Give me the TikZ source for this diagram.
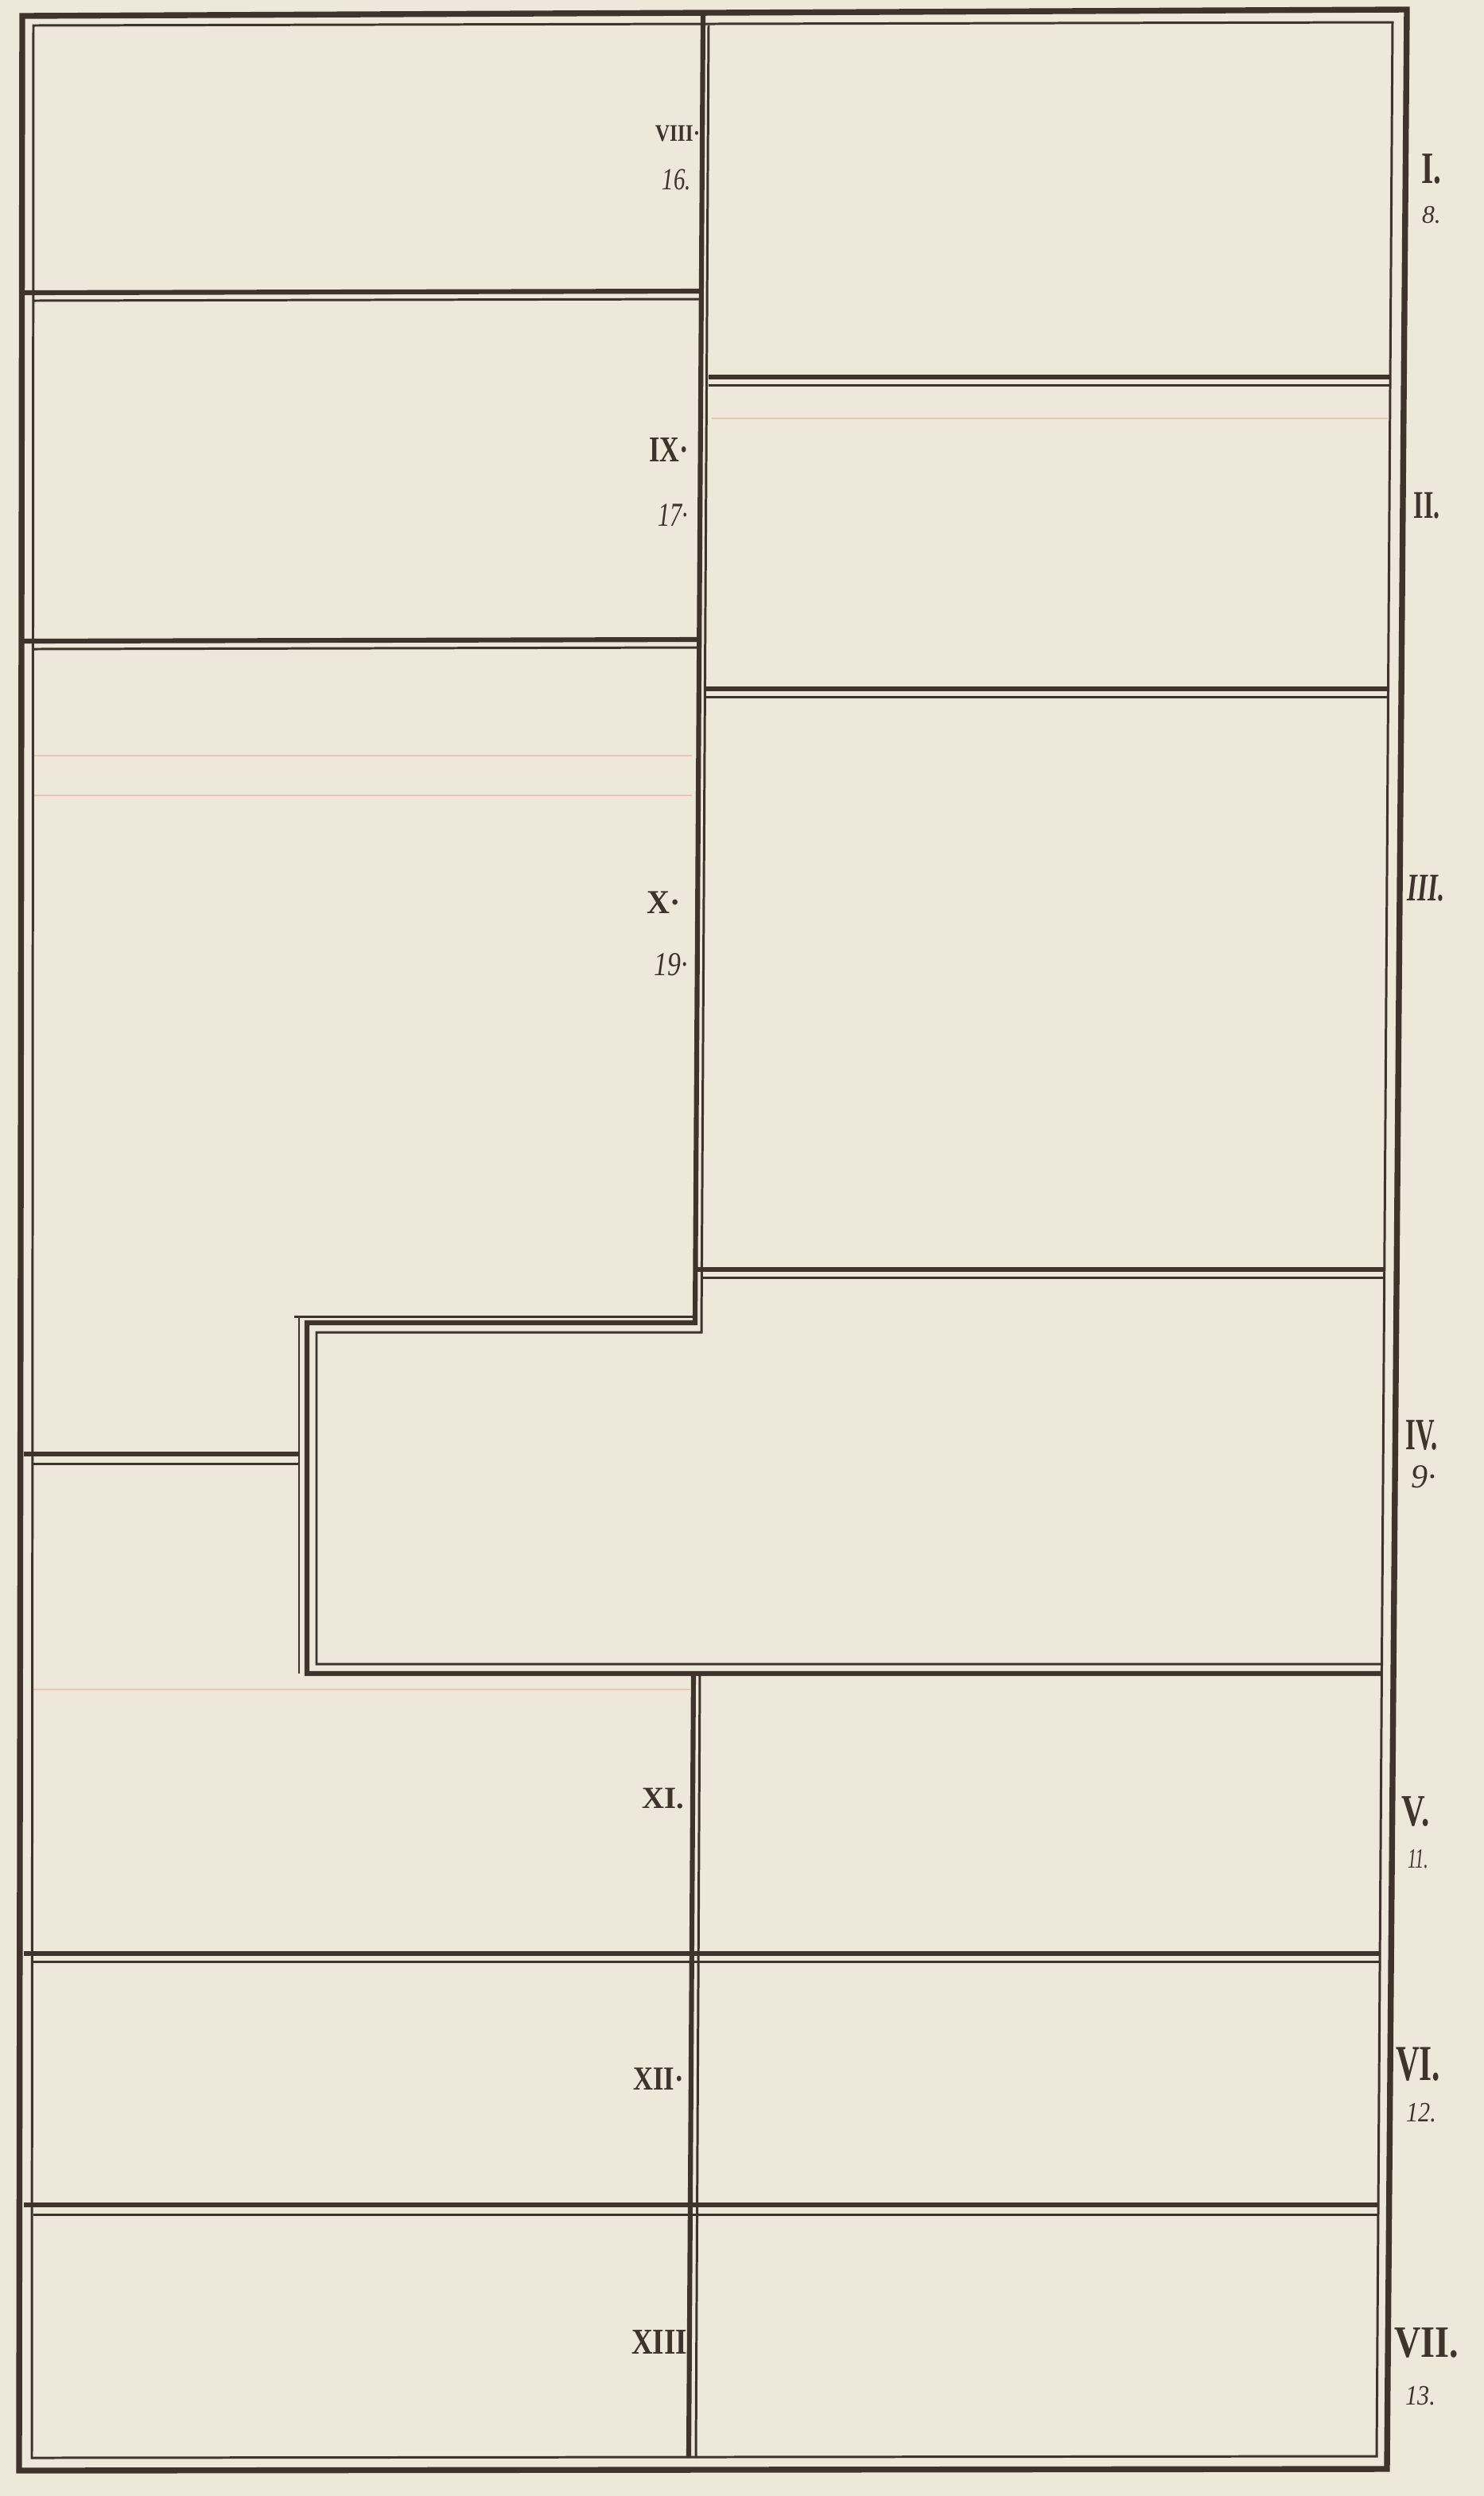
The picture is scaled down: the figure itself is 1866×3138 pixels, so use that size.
\documentclass[tikz,border=0pt]{standalone}
\usepackage{graphicx}
\usepackage{fontspec}
\setmainfont{Liberation Serif}
\definecolor{paper}{RGB}{237,232,218}
\definecolor{ink}{RGB}{62,52,44}
\definecolor{ruling}{RGB}{228,176,158}
\tikzset{
  thk/.style={draw=ink, line width=1.75pt, line join=miter},
  thn/.style={draw=ink, line width=0.85pt, line join=miter},
  frm/.style={draw=ink, line width=2.1pt, line join=miter},
  rul/.style={draw=ruling, line width=0.5pt, opacity=0.6},
  lab/.style={text=ink, inner sep=0pt, anchor=center},
}
\newcommand\nrw[2]{\scalebox{#1}[1]{#2}}
\begin{document}
\begin{tikzpicture}[x=0.01cm, y=-0.01cm]
\fill[paper] (0,0) rectangle (1866,3138);
\useasboundingbox (0,0) rectangle (1866,3138);

% faint ruling
\draw[rul] (895,526) -- (1745,526);
\draw[rul] (40,950) -- (870,950);
\draw[rul] (40,1000) -- (870,1000);
\draw[rul] (40,2124) -- (868,2124);

% outer frame
\draw[frm] (28,20) -- (1769,12) -- (1744,3104) -- (24,3106) -- cycle;
\draw[thn] (42,32) -- (1751,28) -- (1731,3088) -- (40,3090) -- cycle;

% central divider and L step of room IV
\draw[thk] (884,20) -- (874,1663) -- (386,1663) -- (386,2104) -- (1738,2104);
\draw[thn] (891,32) -- (882,1675) -- (398,1675) -- (398,2092) -- (1737,2092);
\draw[thn] (370,1655) -- (872,1655);
\draw[thn] (376,1655) -- (376,2104);

% lower central divider
\draw[thk] (872,2104) -- (866,3090);
\draw[thn] (880,2104) -- (875,3090);

% left column dividers
\draw[thk] (30,368) -- (883,366);
\draw[thn] (42,378) -- (883,376);
\draw[thk] (30,806) -- (880,804);
\draw[thn] (42,816) -- (880,814);
\draw[thk] (30,1828) -- (376,1828);
\draw[thn] (42,1840) -- (376,1840);

% right column dividers
\draw[thk] (891,474) -- (1748,474);
\draw[thn] (891,484) -- (1748,484);
\draw[thk] (888,866) -- (1746,866);
\draw[thn] (888,876) -- (1746,876);
\draw[thk] (876,1596) -- (1741,1596);
\draw[thn] (882,1606) -- (1741,1606);

% full width dividers
\draw[thk] (30,2456) -- (1735,2456);
\draw[thn] (42,2466) -- (1735,2466);
\draw[thk] (30,2772) -- (1733,2772);
\draw[thn] (42,2784) -- (1733,2784);

% labels, left column
\node[lab, font=\fontsize{8.5}{8.5}\selectfont\bfseries] (l8) at (852,168) {\nrw{0.85}{VIII·}};
\node[lab, font=\fontsize{11}{11}\selectfont\itshape] (n16) at (851,226) {\nrw{0.75}{16.}};
\node[lab, font=\fontsize{13}{13}\selectfont\bfseries] (l9) at (841,566) {\nrw{0.75}{IX·}};
\node[lab, font=\fontsize{12}{12}\selectfont\itshape] (n17) at (846,648) {\nrw{0.72}{17·}};
\node[lab, font=\fontsize{12}{12}\selectfont\bfseries] (l10) at (835,1135) {\nrw{0.95}{X·}};
\node[lab, font=\fontsize{12}{12}\selectfont\itshape] (n19) at (844,1213) {\nrw{0.8}{19·}};
\node[lab, font=\fontsize{11}{11}\selectfont\bfseries] (l11) at (834,2261) {XI.};
\node[lab, font=\fontsize{12}{12}\selectfont\bfseries] (l12) at (828,2614) {\nrw{0.82}{XII·}};
\node[lab, font=\fontsize{13}{13}\selectfont\bfseries] (l13) at (829,2944) {\nrw{0.81}{XIII}};

% labels, right column
\node[lab, font=\fontsize{16}{16}\selectfont\bfseries] (r1) at (1800,212) {\nrw{0.7}{I.}};
\node[lab, font=\fontsize{9}{9}\selectfont\itshape] (n8) at (1800,270) {8.};
\node[lab, font=\fontsize{14}{14}\selectfont\bfseries] (r2) at (1794,636) {\nrw{0.65}{II.}};
\node[lab, font=\fontsize{14}{14}\selectfont\bfseries\itshape] (r3) at (1793,1117) {\nrw{0.67}{III.}};
\node[lab, font=\fontsize{16}{16}\selectfont\bfseries] (r4) at (1788,1804) {\nrw{0.58}{IV.}};
\node[lab, font=\fontsize{12}{12}\selectfont\itshape] (n9) at (1790,1857) {9·};
\node[lab, font=\fontsize{16}{16}\selectfont\bfseries] (r5) at (1780,2277) {\nrw{0.73}{V.}};
\node[lab, font=\fontsize{10}{10}\selectfont\itshape] (n11) at (1783,2337) {\nrw{0.62}{11.}};
\node[lab, font=\fontsize{18}{18}\selectfont\bfseries] (r6) at (1783,2595) {\nrw{0.65}{VI.}};
\node[lab, font=\fontsize{10}{10}\selectfont\itshape] (n12) at (1787,2656) {\nrw{0.86}{12.}};
\node[lab, font=\fontsize{16}{16}\selectfont\bfseries] (r7) at (1794,2945) {\nrw{0.82}{VII.}};
\node[lab, font=\fontsize{10}{10}\selectfont\itshape] (n13) at (1786,3012) {\nrw{0.86}{13.}};
\end{tikzpicture}
\end{document}
